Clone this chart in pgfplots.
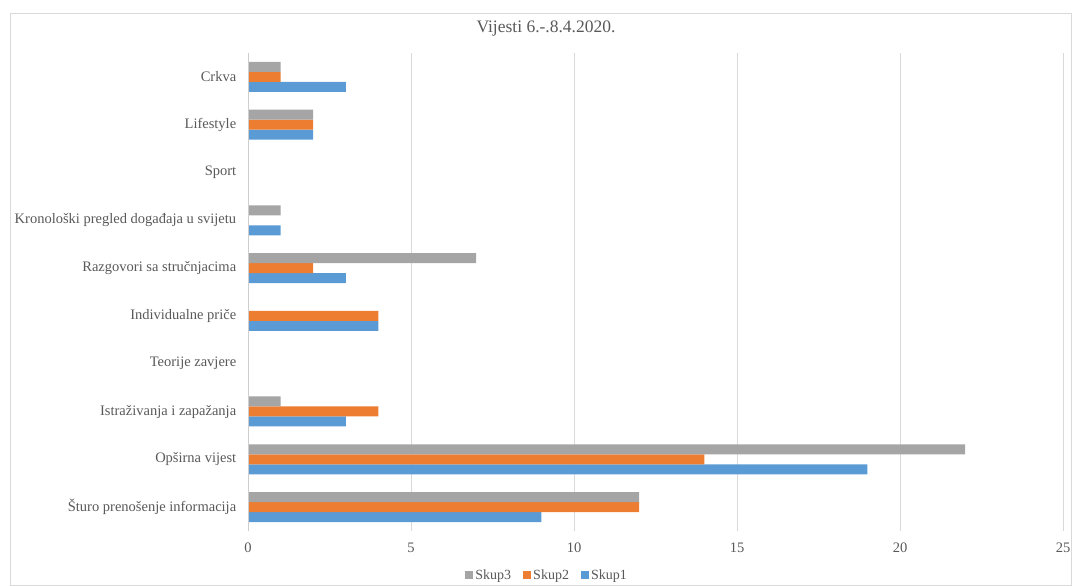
\documentclass[border=0pt]{standalone}
\usepackage{pgfplots}
\pgfplotsset{compat=1.18}
\usepackage{fontspec}
\setmainfont{Liberation Serif}
\definecolor{skupA}{HTML}{5B9BD5}
\definecolor{skupB}{HTML}{ED7D31}
\definecolor{skupC}{HTML}{A5A5A5}
\definecolor{txt}{HTML}{595959}
\definecolor{grd}{HTML}{D9D9D9}
\begin{document}
\begin{tikzpicture}[x=1pt,y=1pt]
\useasboundingbox (0,0) rectangle (1073,586);
\draw[grd, line width=0.8pt] (10,1) rectangle (1071,573);
\node[text=txt, font=\fontsize{17.5}{20}\selectfont] at (546,557) {Vijesti 6.-.8.4.2020.};
\begin{axis}[
    at={(248pt,55pt)}, anchor=south west,
    scale only axis,
    width=815pt, height=478pt,
    xbar, bar width=10pt,
    xmin=0, xmax=25,
    xtick={0,5,10,15,20,25},
    ymin=-0.5, ymax=9.5,
    ytick={0,...,9},
    yticklabels={Šturo prenošenje informacija, Opširna vijest, Istraživanja i zapažanja, Teorije zavjere, Individualne priče, Razgovori sa stručnjacima, Kronološki pregled događaja u svijetu, Sport, Lifestyle, Crkva},
    axis line style={draw=none},
    tick style={draw=none},
    xmajorgrids=true,
    grid style={grd, line width=0.8pt},
    ticklabel style={text=txt, font=\fontsize{14.5}{17}\selectfont},
    /pgf/number format/assume math mode=true,
    xticklabel style={yshift=-8pt},
    yticklabel style={xshift=-4pt},
    legend style={at={(0.367,-0.092)}, anchor=center, draw=none,
        legend columns=-1, font=\fontsize{14}{16}\selectfont, text=txt,
        /tikz/every even column/.append style={column sep=10pt}},
    legend image code/.code={\fill[#1] (0pt,-4pt) rectangle (8pt,4pt);},
    reverse legend,
]
\addplot[fill=skupA, draw=none, bar shift=-10pt] coordinates {
    (9,0) (19,1) (3,2) (4,4) (3,5) (1,6) (2,8) (3,9)};
\addplot[fill=skupB, draw=none, bar shift=0pt] coordinates {
    (12,0) (14,1) (4,2) (4,4) (2,5) (2,8) (1,9)};
\addplot[fill=skupC, draw=none, bar shift=10pt] coordinates {
    (12,0) (22,1) (1,2) (7,5) (1,6) (2,8) (1,9)};
\legend{Skup1, Skup2, Skup3}
\draw[grd!80!black!60, line width=0.8pt] (axis cs:0,-0.5) -- (axis cs:0,9.5);
\end{axis}
\end{tikzpicture}
\end{document}
